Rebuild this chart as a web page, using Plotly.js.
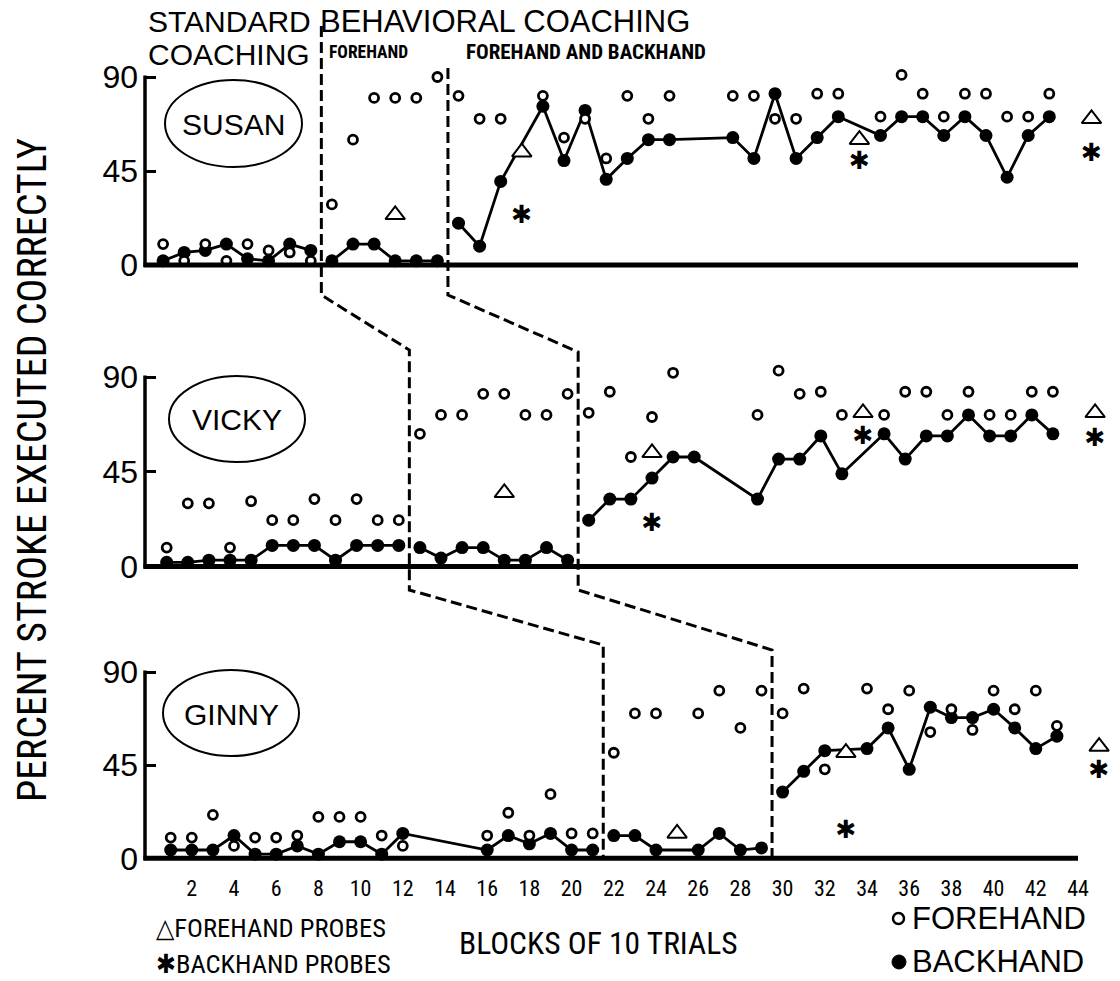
<!DOCTYPE html>
<html><head><meta charset="utf-8">
<script src="https://cdn.plot.ly/plotly-3.0.1.min.js"></script>
<style>html,body{margin:0;padding:0;background:#fff}</style>
</head><body><div id="chart" style="width:1120px;height:981px"></div>
<script>
// ---------------- DATA ----------------
const students = ["SUSAN", "VICKY", "GINNY"];
const xTickVals = [2,4,6,8,10,12,14,16,18,20,22,24,26,28,30,32,34,36,38,40,42,44];
const xTickText = ["2","4","6","8","10","12","14","16","18","20","22","24","26","28","30","32","34","36","38","40","42","44"];
const yTickVals = [0,45,90];
const yTickText = ["0","45","90"];

const susanBlocks   = [1,2,3,4,5,6,7,8,9,10,11,12,13,14,15,16,17,19,20,21,22,23,24,25,28,29,30,31,32,33,35,36,37,38,39,40,41,42,43];
const susanForehand = [10,2,10,2,10,7,6,2, 29,60,80,80,80,90, 81,70,70, 81,61,70,51,81,70,81, 81,81,70,70,82,82, 71,91,82,71,82,82,71,71,82];
const susanBackhand = [2,6,7,10,3,2,10,7, 2,10,10,2,2,2, 20,9,40, 76,50,74,41,51,60,60, 61,51,82,51,61,71, 62,71,71,62,71,62,42,62,71];
const susanProbeBlocks = [12,18,34,45];
const susanForeProbe   = [24,54,60,70];
const susanBackProbe   = [null,23,49,53];
const susanPhases = [8.5, 14.5];

const vickyBlocks   = [1,2,3,4,5,6,7,8,9,10,11,12,13,14,15,16,17,18,19,20,21,22,23,24,25,26,29,30,31,32,33,35,36,37,38,39,40,41,42,43];
const vickyForehand = [9,30,30,9,31,22,22,32,22,32,22,22, 63,72,72,82,82,72,72,82, 73,83,52,71,92,null, 72,93,82,83,72, 72,83,83,72,83,72,72,83,83];
const vickyBackhand = [2,2,3,3,3,10,10,10,3,10,10,10, 9,4,9,9,3,3,9,3, 22,32,32,42,52,52, 32,51,51,62,44, 63,51,62,62,72,62,62,72,63];
const vickyProbeBlocks = [17,24,34,45];
const vickyForeProbe   = [35,54,73,73];
const vickyBackProbe   = [null,20,61,60];
const vickyPhases = [12.5, 20.5];

const ginnyBlocks   = [1,2,3,4,5,6,7,8,9,10,11,12,16,17,18,19,20,21,22,23,24,26,27,28,29,30,31,32,34,35,36,37,38,39,40,41,42,43];
const ginnyForehand = [10,10,21,6,10,10,11,20,20,20,11,6, 11,22,11,31,12,12,51,70,70, 70,81,63,81,70,82,43, 82,72,81,61,72,62,81,72,81,64];
const ginnyBackhand = [4,4,4,11,2,2,6,2,8,8,2,12, 4,11,7,12,4,4,11,11,4, 4,12,4,5,32,42,52, 53,63,43,73,68,68,72,63,53,59];
const ginnyProbeBlocks = [25,33,45];
const ginnyForeProbe   = [12,51,54];
const ginnyBackProbe   = [null,13,42];
const ginnyPhases = [21.5, 29.5];

// ---------------- LAYOUT GEOMETRY ----------------
const W = 1120, H = 981;
const PX = p => p / W;           // pixel -> paper x
const PY = p => 1 - p / H;       // pixel -> paper y
const axLeft = 145, axRight = 1078, plotRight = 1116;
const blockPx = 21.1;
const zeroPx = [142, 145.6, 149.6];       // slight horizontal skew of each panel
const yZero = [265, 566.5, 858.3];
const yTop  = [77, 377, 672];
const yMax = 100;
const yPix = (i, v) => yZero[i] - (yZero[i] - yTop[i]) * v / 90;
const xRange = i => [(axLeft - zeroPx[i]) / blockPx, (plotRight - zeroPx[i]) / blockPx];
const bx = (i, b) => PX(zeroPx[i] + blockPx * b);   // block -> paper x via panel scale

const panels = [
  {blocks: susanBlocks, fore: susanForehand, back: susanBackhand, pb: susanProbeBlocks, pf: susanForeProbe, pbk: susanBackProbe, phases: susanPhases},
  {blocks: vickyBlocks, fore: vickyForehand, back: vickyBackhand, pb: vickyProbeBlocks, pf: vickyForeProbe, pbk: vickyBackProbe, phases: vickyPhases},
  {blocks: ginnyBlocks, fore: ginnyForehand, back: ginnyBackhand, pb: ginnyProbeBlocks, pf: ginnyForeProbe, pbk: ginnyBackProbe, phases: ginnyPhases}
];

const NARROW = "'Roboto Condensed', 'Liberation Sans Narrow', 'DejaVu Sans Condensed', sans-serif";
const SANS = "'Liberation Sans', Arial, Helvetica, sans-serif";

const traces = [];
panels.forEach((p, i) => {
  const xa = i === 0 ? 'x' : 'x' + (i + 1);
  const ya = i === 0 ? 'y' : 'y' + (i + 1);
  const bounds = [-100, ...p.phases, 100];
  for (let s = 0; s < bounds.length - 1; s++) {
    const xs = [], ys = [];
    p.blocks.forEach((b, k) => {
      if (b > bounds[s] && b < bounds[s + 1] && p.back[k] !== null) { xs.push(b); ys.push(p.back[k]); }
    });
    traces.push({x: xs, y: ys, xaxis: xa, yaxis: ya, mode: 'lines', line: {color: '#000', width: 2.8}, hoverinfo: 'skip', cliponaxis: false});
  }
  traces.push({x: p.blocks, y: p.back, xaxis: xa, yaxis: ya, mode: 'markers', cliponaxis: false,
    marker: {symbol: 'circle', size: 13, color: '#000', line: {width: 0}}});
  traces.push({x: p.blocks, y: p.fore, xaxis: xa, yaxis: ya, mode: 'markers', cliponaxis: false,
    marker: {symbol: 'circle', size: 9, color: '#fff', line: {color: '#000', width: 2.8}}});
  traces.push({x: p.pb, y: p.pf, xaxis: xa, yaxis: ya, mode: 'markers', cliponaxis: false,
    marker: {symbol: 'triangle-up', size: 17, color: '#fff', line: {color: '#000', width: 2}}});
  traces.push({x: p.pb, y: p.pbk, xaxis: xa, yaxis: ya, mode: 'text', cliponaxis: false,
    text: p.pb.map(() => '✱'), textposition: 'middle center',
    textfont: {family: "'DejaVu Sans', sans-serif", size: 25, color: '#000'}});
});

const layout = {
  width: W, height: H, margin: {l: 0, r: 0, t: 0, b: 0},
  paper_bgcolor: '#fff', plot_bgcolor: 'rgba(0,0,0,0)', showlegend: false,
  shapes: [], annotations: []
};

[0, 1, 2].forEach(i => {
  const sx = i === 0 ? '' : String(i + 1);
  layout['xaxis' + sx] = {
    domain: [PX(axLeft), PX(plotRight)], range: xRange(i), anchor: 'y' + sx,
    showline: false, showgrid: false, zeroline: false,
    ticks: '', showticklabels: i === 2, tickmode: 'array', tickvals: xTickVals, ticktext: xTickText,
    tickfont: {family: NARROW, size: 22, color: '#000'}, ticklabelstandoff: 15, fixedrange: true
  };
  layout['yaxis' + sx] = {
    domain: [PY(yZero[i]), PY(yPix(i, yMax))], range: [0, yMax], anchor: 'x' + sx,
    showline: false, showgrid: false, zeroline: false,
    ticks: 'inside', ticklen: 11, tickwidth: 3, tickcolor: '#000',
    tickmode: 'array', tickvals: yTickVals, ticktext: yTickText,
    tickfont: {family: SANS, size: 32, color: '#000'}, ticklabelstandoff: 6, fixedrange: true
  };
  // axis frame: vertical line 0..90 and heavy baseline
  layout.shapes.push({type: 'line', xref: 'paper', yref: 'paper', x0: PX(axLeft), x1: PX(axLeft),
    y0: PY(yPix(i, 0) + 2), y1: PY(yPix(i, 90) - 1.5), line: {color: '#000', width: 3.5}});
  layout.shapes.push({type: 'line', xref: 'paper', yref: 'paper', x0: PX(axLeft - 1.5), x1: PX(axRight),
    y0: PY(yZero[i]), y1: PY(yZero[i]), line: {color: '#000', width: 5}});
});

// phase-change dashed paths
const chainTop = [26, 68];
const segY = [[295, 350, 590, 645, 860], [295, 352, 590, 650, 860]];
[0, 1].forEach(c => {
  const xs = panels.map((p, i) => bx(i, p.phases[c]));
  const ys = segY[c].map(PY);
  const path = `M${xs[0]},${PY(chainTop[c])} L${xs[0]},${ys[0]} L${xs[1]},${ys[1]} L${xs[1]},${ys[2]} L${xs[2]},${ys[3]} L${xs[2]},${ys[4]}`;
  layout.shapes.push({type: 'path', xref: 'paper', yref: 'paper', path: path,
    line: {color: '#000', width: 3, dash: '11px,5px'}});
});

// name ellipses
const ellipses = [[165, 80, 302, 167], [169, 376, 305, 462], [163, 670, 299, 756]];
ellipses.forEach((e, i) => {
  layout.shapes.push({type: 'circle', xref: 'paper', yref: 'paper',
    x0: PX(e[0]), x1: PX(e[2]), y0: PY(e[3]), y1: PY(e[1]), line: {color: '#000', width: 2}});
  layout.annotations.push({xref: 'paper', yref: 'paper', x: PX((e[0] + e[2]) / 2), y: PY((e[1] + e[3]) / 2 + 1),
    text: students[i], showarrow: false, xanchor: 'center', yanchor: 'middle',
    font: {family: SANS, size: 30, color: '#000'}});
});

// legend symbols at lower right
layout.shapes.push({type: 'circle', xref: 'paper', yref: 'paper', x0: PX(893), x1: PX(904), y0: PY(924), y1: PY(913), line: {color: '#000', width: 2.5}, fillcolor: '#fff'});
layout.shapes.push({type: 'circle', xref: 'paper', yref: 'paper', x0: PX(892), x1: PX(906), y0: PY(969), y1: PY(955), line: {color: '#000', width: 1}, fillcolor: '#000'});

const ann = (x, y, text, size, family, xanchor, extra) => Object.assign({
  xref: 'paper', yref: 'paper', x: PX(x), y: PY(y), text: text, showarrow: false,
  xanchor: xanchor || 'left', yanchor: 'middle', font: {family: family, size: size, color: '#000'}
}, extra || {});

layout.annotations.push(
  ann(146, 22, 'STANDARD', 30, SANS),
  ann(146, 54, 'COACHING', 30, SANS),
  ann(318, 21, 'BEHAVIORAL COACHING', 31, SANS),
  ann(327, 52, '<b>FOREHAND</b>', 17.5, NARROW),
  ann(464, 52, '<b>FOREHAND AND BACKHAND</b>', 21, NARROW),
  ann(32, 470, 'PERCENT STROKE EXECUTED CORRECTLY', 40, NARROW, 'center', {textangle: -90}),
  ann(154, 927, '△FOREHAND PROBES', 26.5, NARROW),
  ann(154, 963, '✱BACKHAND PROBES', 26.5, NARROW),
  ann(598, 943, 'BLOCKS OF 10 TRIALS', 31.5, NARROW, 'center'),
  ann(910, 918, 'FOREHAND', 31, SANS),
  ann(910, 961, 'BACKHAND', 31, SANS)
);

Plotly.newPlot('chart', traces, layout, {displayModeBar: false, staticPlot: true});
</script>
</body></html>
